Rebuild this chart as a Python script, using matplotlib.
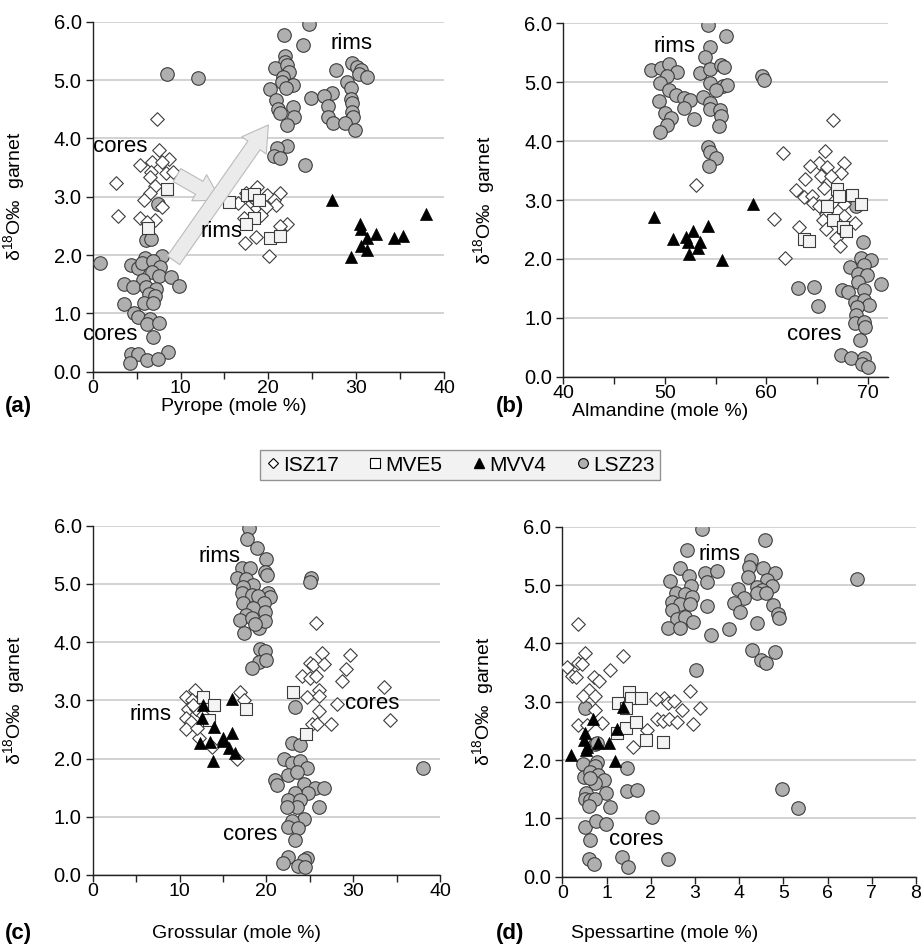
import numpy as np
import matplotlib
matplotlib.use("Agg")
import matplotlib.pyplot as plt
from matplotlib.lines import Line2D

plt.rcParams['font.family'] = ['Liberation Sans', 'DejaVu Sans']
plt.rcParams['mathtext.default'] = 'regular'

# ---------- (a) pyrope ----------
pyr_lsz_x = [24.6, 21.8, 23.9, 21.9, 21.9, 20.8, 22.1, 22.3, 21.7, 21.5, 20.2, 22.8, 22.0, 20.9, 21.1, 21.3,
             22.8, 22.9, 22.1, 22.1, 21.0, 20.6, 21.3, 24.2, 24.9, 8.5, 12.0,
             29.5, 27.7, 30.1, 30.6, 30.3, 31.2, 29.0, 29.4, 27.3, 26.3, 29.4, 29.5, 26.8, 29.5, 29.6, 26.8,
             27.4, 28.7, 29.9,
             0.8, 7.4, 6.1, 6.6, 7.9, 5.9, 4.4, 5.2, 5.6, 6.9, 7.7, 6.7, 5.7, 7.5, 8.9, 9.8, 3.6, 4.6, 6.1,
             7.2, 6.4, 7.1, 5.8, 3.6, 6.9, 4.7, 5.2, 6.5, 6.2, 7.5, 6.9, 8.6, 4.4, 5.2, 4.3, 6.2, 7.4]
pyr_lsz_y = [5.96, 5.77, 5.60, 5.41, 5.31, 5.20, 5.26, 5.14, 5.06, 4.97, 4.84, 4.91, 4.86, 4.66, 4.51, 4.43,
             4.53, 4.36, 4.23, 3.87, 3.83, 3.70, 3.67, 3.55, 4.69, 5.10, 5.03,
             5.30, 5.17, 5.23, 5.17, 5.10, 5.06, 4.97, 4.86, 4.78, 4.73, 4.67, 4.60, 4.56, 4.46, 4.37, 4.37,
             4.26, 4.26, 4.14,
             1.86, 2.87, 2.25, 2.28, 1.98, 1.95, 1.83, 1.77, 1.87, 1.89, 1.80, 1.71, 1.58, 1.64, 1.63, 1.47,
             1.50, 1.45, 1.45, 1.42, 1.34, 1.29, 1.17, 1.16, 1.18, 1.00, 0.94, 0.91, 0.82, 0.84, 0.60, 0.34,
             0.30, 0.30, 0.15, 0.20, 0.21]
pyr_isz_x = [7.3, 7.5, 8.7, 5.4, 6.7, 7.9, 6.6, 8.4, 9.2, 6.5, 7.1, 6.5, 2.6, 5.8, 7.9, 2.9, 5.4, 7.1, 6.2,
             18.7, 17.5, 16.6, 19.8, 21.3, 20.6, 20.9, 18.1, 18.7, 19.7, 17.2, 19.2, 22.1, 21.3, 18.6, 17.3,
             20.1, 18.1]
pyr_isz_y = [4.34, 3.80, 3.65, 3.55, 3.60, 3.60, 3.43, 3.40, 3.42, 3.34, 3.18, 3.06, 3.24, 2.94, 2.82, 2.67,
             2.63, 2.60, 2.57,
             3.17, 3.06, 2.89, 3.03, 3.07, 2.94, 2.86, 2.90, 2.80, 2.82, 2.63, 2.69, 2.54, 2.49, 2.31, 2.21,
             1.99, 3.00]
pyr_mve_x = [8.5, 6.3, 15.5, 17.6, 18.4, 18.9, 18.4, 17.4, 20.2, 21.3]
pyr_mve_y = [3.14, 2.46, 2.91, 3.03, 3.05, 2.95, 2.63, 2.53, 2.30, 2.33]
pyr_mvv_x = [27.2, 38.0, 30.4, 30.6, 32.3, 31.2, 34.3, 35.3, 30.6, 31.2, 29.4]
pyr_mvv_y = [2.94, 2.70, 2.53, 2.45, 2.36, 2.29, 2.29, 2.33, 2.16, 2.09, 1.97]

# ---------- (b) almandine ----------
alm_lsz_x = [54.3, 56.0, 54.5, 54.0, 48.6, 49.6, 50.4, 51.2, 50.2, 49.5, 53.5, 54.5, 55.5, 55.8, 55.7, 56.1,
             54.5, 55.0, 50.4, 51.1, 51.9, 52.5, 49.4, 53.8, 54.5, 51.9, 50.0, 54.5, 55.4, 55.5, 50.6, 52.9,
             50.2, 55.3, 49.5, 59.6, 59.8, 54.3, 54.5, 55.0, 54.4,
             69.5, 69.3, 70.3, 68.3, 69.6, 69.0, 69.9, 71.3, 69.0, 67.5, 68.1, 69.6, 68.7, 69.6, 70.1, 68.9,
             68.8, 68.7, 69.6, 69.7, 69.2, 67.4, 68.4, 69.6, 69.4, 70.0, 63.1, 64.7, 65.1, 68.8]
alm_lsz_y = [5.97, 5.78, 5.60, 5.42, 5.20, 5.24, 5.31, 5.18, 5.11, 4.99, 5.16, 5.22, 5.29, 5.26, 4.94, 4.95,
             4.98, 4.87, 4.87, 4.78, 4.74, 4.70, 4.68, 4.75, 4.64, 4.57, 4.47, 4.54, 4.53, 4.43, 4.39, 4.37,
             4.27, 4.26, 4.15, 5.10, 5.04, 3.90, 3.82, 3.71, 3.58,
             2.29, 2.01, 1.98, 1.87, 1.90, 1.75, 1.73, 1.58, 1.60, 1.47, 1.43, 1.48, 1.27, 1.31, 1.22, 1.19,
             1.05, 0.92, 0.93, 0.85, 0.62, 0.37, 0.31, 0.31, 0.22, 0.17, 1.50, 1.53, 1.20, 2.90]
alm_isz_x = [66.6, 61.7, 65.8, 65.2, 66.0, 64.3, 67.7, 67.4, 65.4, 63.8, 66.4, 62.9, 63.7, 64.5, 65.7, 64.6,
             65.2, 66.6, 67.7, 65.9, 67.7, 65.6, 68.7, 65.9, 66.9, 67.3, 60.8, 63.2, 53.1, 61.8]
alm_isz_y = [4.35, 3.79, 3.84, 3.62, 3.56, 3.58, 3.62, 3.45, 3.41, 3.35, 3.40, 3.17, 3.05, 3.07, 3.20, 2.95,
             2.89, 2.97, 2.94, 2.77, 2.72, 2.66, 2.61, 2.50, 2.35, 2.22, 2.68, 2.55, 3.25, 2.01]
alm_mve_x = [67.0, 67.2, 68.5, 69.3, 66.0, 66.6, 67.6, 67.9, 63.7, 64.2]
alm_mve_y = [3.18, 3.06, 3.08, 2.94, 2.89, 2.66, 2.55, 2.48, 2.33, 2.31]
alm_mvv_x = [48.9, 58.7, 50.8, 52.1, 52.8, 54.3, 52.3, 53.5, 53.3, 52.4, 55.6]
alm_mvv_y = [2.71, 2.93, 2.34, 2.37, 2.47, 2.56, 2.29, 2.29, 2.18, 2.09, 1.98]

# ---------- (c) grossular ----------
grs_lsz_x = [18.0, 17.8, 18.9, 20.0, 17.2, 18.1, 19.9, 20.1, 16.6, 17.7, 18.5, 17.3, 20.2, 20.4, 17.2, 18.3,
             19.0, 19.7, 17.3, 18.5, 17.7, 19.9, 17.0, 18.3, 19.1, 19.9, 17.4, 18.7, 25.2, 25.0, 19.3, 19.8,
             19.1, 20.0, 18.4,
             23.3, 23.0, 23.9, 22.0, 22.9, 23.9, 24.7, 22.5, 23.5, 24.3, 21.0, 21.2, 25.6, 26.6, 24.8, 23.3,
             22.5, 23.9, 23.5, 22.4, 26.1, 24.3, 23.0, 22.5, 23.6, 23.3, 22.5, 21.9, 24.7, 24.3, 23.7, 24.4,
             38.0]
grs_lsz_y = [5.96, 5.78, 5.61, 5.42, 5.27, 5.28, 5.21, 5.15, 5.11, 5.09, 4.98, 4.95, 4.85, 4.77, 4.84, 4.81,
             4.79, 4.67, 4.67, 4.58, 4.46, 4.52, 4.38, 4.41, 4.24, 4.37, 4.15, 4.31, 5.11, 5.04, 3.88, 3.84,
             3.66, 3.69, 3.55,
             2.88, 2.26, 2.24, 1.99, 1.93, 1.95, 1.83, 1.72, 1.77, 1.57, 1.63, 1.55, 1.49, 1.49, 1.40, 1.40,
             1.29, 1.29, 1.17, 1.17, 1.16, 0.97, 0.92, 0.83, 0.80, 0.60, 0.31, 0.20, 0.29, 0.26, 0.15, 0.14,
             1.84]
grs_isz_x = [25.7, 26.4, 29.6, 25.0, 25.4, 26.6, 29.2, 24.1, 25.0, 25.7, 28.7, 33.5, 26.1, 24.7, 26.1, 28.1,
             26.1, 34.2, 25.3, 25.8, 27.4,
             11.8, 10.8, 11.4, 11.0, 11.9, 11.6, 10.8, 11.3, 12.7, 10.8, 12.2, 13.7, 16.6, 17.0, 17.4, 12.0]
grs_isz_y = [4.33, 3.82, 3.78, 3.65, 3.61, 3.62, 3.54, 3.41, 3.38, 3.42, 3.33, 3.23, 3.18, 3.06, 3.07, 2.93,
             2.82, 2.67, 2.60, 2.59, 2.60,
             3.18, 3.05, 3.01, 2.86, 2.85, 2.92, 2.69, 2.63, 2.75, 2.50, 2.35, 2.20, 1.99, 3.15, 3.01, 2.52]
grs_mve_x = [12.7, 14.0, 13.4, 17.7, 23.1, 24.6]
grs_mve_y = [3.05, 2.92, 2.66, 2.86, 3.15, 2.43]
grs_mvv_x = [16.1, 12.7, 12.6, 14.0, 16.1, 12.4, 13.5, 15.0, 15.0, 15.7, 16.4, 13.9]
grs_mvv_y = [3.03, 2.92, 2.69, 2.55, 2.44, 2.27, 2.29, 2.31, 2.36, 2.18, 2.09, 1.96]

# ---------- (d) spessartine ----------
sps_lsz_x = [3.17, 4.59, 2.83, 2.66, 2.87, 3.23, 3.49, 3.27, 2.44, 2.90, 2.57, 2.78, 2.93, 2.47, 2.66, 2.89,
             2.47, 3.28, 2.59, 2.78, 2.95, 2.38, 2.66, 3.37, 3.76, 4.26, 4.23, 4.21, 4.53, 4.81, 4.62, 4.41,
             4.74, 4.51, 4.41, 4.61, 3.98, 4.11, 3.88, 4.02, 4.77, 4.89, 4.91, 4.40, 4.28, 4.49, 4.61, 4.80,
             3.02, 6.67, 4.98, 5.32,
             0.51, 0.46, 0.49, 0.79, 0.74, 0.62, 0.81, 0.95, 0.75, 0.62, 0.54, 0.99, 0.52, 0.62, 0.75, 0.61,
             1.09, 0.74, 0.79, 1.47, 1.47, 1.68, 0.51, 0.76, 0.98, 0.63, 2.04, 0.60, 0.72, 1.36, 1.49, 2.38]
sps_lsz_y = [5.96, 5.78, 5.60, 5.30, 5.16, 5.20, 5.24, 5.05, 5.07, 4.99, 4.86, 4.85, 4.80, 4.71, 4.67, 4.67,
             4.57, 4.64, 4.41, 4.46, 4.37, 4.26, 4.27, 4.15, 4.24, 5.43, 5.31, 5.14, 5.30, 5.21, 5.09, 4.97,
             4.98, 4.91, 4.86, 4.86, 4.93, 4.78, 4.69, 4.54, 4.65, 4.50, 4.43, 4.35, 3.89, 3.71, 3.67, 3.85,
             3.55, 5.10, 1.51, 1.18,
             2.89, 1.93, 1.71, 1.97, 1.89, 1.80, 1.74, 1.65, 1.60, 1.69, 1.44, 1.43, 1.34, 1.31, 1.33, 1.21,
             1.19, 2.27, 2.30, 1.86, 1.47, 1.49, 0.85, 0.96, 0.91, 0.63, 1.02, 0.31, 0.21, 0.34, 0.17, 0.30]
sps_isz_x = [0.36, 0.51, 1.37, 0.10, 0.36, 0.44, 0.21, 0.31, 0.72, 0.84, 1.08, 0.60, 0.46, 0.74, 2.89, 2.30,
             2.11, 2.38, 2.53, 3.11, 0.74, 2.71, 2.14, 2.28, 2.42, 2.60, 2.96, 0.36, 0.89, 1.92, 1.61, 0.55]
sps_isz_y = [4.34, 3.83, 3.78, 3.60, 3.66, 3.65, 3.44, 3.42, 3.43, 3.35, 3.55, 3.20, 3.09, 3.09, 3.18, 3.07,
             3.05, 2.97, 3.01, 2.89, 2.85, 2.85, 2.71, 2.67, 2.71, 2.65, 2.62, 2.60, 2.63, 2.51, 2.23, 2.60]
sps_mve_x = [1.51, 1.26, 1.55, 1.79, 1.44, 1.23, 1.44, 1.67, 1.89, 2.28]
sps_mve_y = [3.17, 2.97, 3.07, 3.06, 2.89, 2.46, 2.55, 2.66, 2.34, 2.31]
sps_mvv_x = [0.20, 0.51, 0.49, 0.55, 0.54, 0.70, 0.81, 1.06, 1.19, 1.24, 1.38]
sps_mvv_y = [2.09, 2.46, 2.35, 2.23, 2.17, 2.71, 2.29, 2.29, 1.99, 2.54, 2.91]

samples = ['ISZ17', 'MVE5', 'MVV4', 'LSZ23']
y_ticks = [0, 1, 2, 3, 4, 5, 6]

styles = {
    'LSZ23': dict(marker='o', s=95, facecolor='#afafaf', edgecolor='#3c3c3c', linewidths=0.8, zorder=3),
    'ISZ17': dict(marker='D', s=48, facecolor='white', edgecolor='#3c3c3c', linewidths=0.8, zorder=4),
    'MVE5': dict(marker='s', s=80, facecolor='#f4f4f4', edgecolor='#3c3c3c', linewidths=0.8, zorder=5),
    'MVV4': dict(marker='^', s=75, facecolor='black', edgecolor='black', linewidths=0.5, zorder=6),
}

fig = plt.figure(figsize=(9.23, 9.44), dpi=100)
W, H = 923, 944


def make_ax(l, r, t, b):
    return fig.add_axes([l / W, 1 - b / H, (r - l) / W, (b - t) / H])


panels = [
    dict(ax=make_ax(92.7, 444, 21.7, 371.7), xlim=(0, 40), xt=np.arange(0, 41, 5), lab_every=10,
         data={'LSZ23': (pyr_lsz_x, pyr_lsz_y), 'ISZ17': (pyr_isz_x, pyr_isz_y),
               'MVE5': (pyr_mve_x, pyr_mve_y), 'MVV4': (pyr_mvv_x, pyr_mvv_y)},
         xlabel='Pyrope (mole %)', xl_pos=(234, 406), tag='(a)', tag_pos=(18, 406),
         notes=[('rims', 29.5, 5.63), ('cores', 3.1, 3.86), ('rims', 14.7, 2.40), ('cores', 2.0, 0.64)]),
    dict(ax=make_ax(563.3, 888, 23.3, 376.7), xlim=(40, 72), xt=np.arange(40, 71, 5), lab_every=10,
         data={'LSZ23': (alm_lsz_x, alm_lsz_y), 'ISZ17': (alm_isz_x, alm_isz_y),
               'MVE5': (alm_mve_x, alm_mve_y), 'MVV4': (alm_mvv_x, alm_mvv_y)},
         xlabel='Almandine (mole %)', xl_pos=(660, 412), tag='(b)', tag_pos=(510, 406),
         notes=[('rims', 51.0, 5.60), ('cores', 64.7, 0.71)]),
    dict(ax=make_ax(92.7, 440, 525.7, 875), xlim=(0, 40), xt=np.arange(0, 41, 5), lab_every=10,
         data={'LSZ23': (grs_lsz_x, grs_lsz_y), 'ISZ17': (grs_isz_x, grs_isz_y),
               'MVE5': (grs_mve_x, grs_mve_y), 'MVV4': (grs_mvv_x, grs_mvv_y)},
         xlabel='Grossular (mole %)', xl_pos=(236, 933), tag='(c)', tag_pos=(18, 933),
         notes=[('rims', 14.6, 5.47), ('rims', 6.6, 2.75), ('cores', 32.2, 2.95), ('cores', 18.1, 0.70)]),
    dict(ax=make_ax(562.3, 916, 526.7, 876.7), xlim=(0, 8), xt=np.arange(0, 9, 1), lab_every=1,
         data={'LSZ23': (sps_lsz_x, sps_lsz_y), 'ISZ17': (sps_isz_x, sps_isz_y),
               'MVE5': (sps_mve_x, sps_mve_y), 'MVV4': (sps_mvv_x, sps_mvv_y)},
         xlabel='Spessartine (mole %)', xl_pos=(665, 934), tag='(d)', tag_pos=(510, 933),
         notes=[('rims', 3.55, 5.53), ('cores', 1.67, 0.64)]),
]

for p in panels:
    ax = p['ax']
    for name in ['LSZ23', 'ISZ17', 'MVE5', 'MVV4']:
        xs, ys = p['data'][name]
        ax.scatter(xs, ys, **styles[name])
    ax.set_xlim(*p['xlim'])
    ax.set_ylim(0, 6)
    ax.set_yticks(y_ticks)
    ax.set_yticklabels(['%.1f' % v for v in y_ticks])
    ax.set_xticks(p['xt'])
    ax.set_xticklabels([str(int(v)) if v % p['lab_every'] == 0 else '' for v in p['xt']])
    ax.grid(axis='y', color='#cfcfcf', lw=1.3, zorder=0)
    ax.set_axisbelow(True)
    for s in ['top', 'right']:
        ax.spines[s].set_visible(False)
    for s in ['left', 'bottom']:
        ax.spines[s].set_color('#222222')
        ax.spines[s].set_linewidth(1.0)
    ax.tick_params(direction='out', length=5, width=1, colors='#222222', labelsize=14.5,
                   labelcolor='black')
    ax.tick_params(axis='x', pad=1, labelsize=14)
    ax.tick_params(axis='y', pad=3)
    ax.set_ylabel('δ$^{18}$O‰  garnet', fontsize=14)
    ax.yaxis.set_label_coords(-(66 / (ax.get_position().width * W)), 0.5)
    for txt, tx, ty in p['notes']:
        ax.text(tx, ty, txt, fontsize=16, ha='center', va='center', zorder=8)
    fig.text(p['xl_pos'][0] / W, 1 - p['xl_pos'][1] / H, p['xlabel'], fontsize=14, ha='center', va='center')
    fig.text(p['tag_pos'][0] / W, 1 - p['tag_pos'][1] / H, p['tag'], fontsize=16, fontweight='bold',
             ha='center', va='center')

# arrows in panel (a)
ax_a = panels[0]['ax']
arrow_kw = dict(arrowstyle='simple,head_width=1.2,head_length=1.0,tail_width=0.6',
                fc='#ebebeb', ec='#bbbbbb', lw=0.8, mutation_scale=18, shrinkA=0, shrinkB=0)
ax_a.annotate('', xy=(14.6, 2.94), xytext=(9.6, 3.37), arrowprops=arrow_kw, zorder=7)
ax_a.annotate('', xy=(20.0, 4.23), xytext=(9.2, 1.91), arrowprops=arrow_kw, zorder=7)

handles = [
    Line2D([], [], ls='none', marker='D', ms=5, mfc='white', mec='black', mew=0.8),
    Line2D([], [], ls='none', marker='s', ms=7, mfc='white', mec='black', mew=0.8),
    Line2D([], [], ls='none', marker='^', ms=7, mfc='black', mec='black'),
    Line2D([], [], ls='none', marker='o', ms=7, mfc='#afafaf', mec='black', mew=0.8),
]
leg = fig.legend(handles, samples, loc='center', bbox_to_anchor=(460 / W, 1 - 465 / H), ncol=4,
                 fontsize=15, frameon=True, fancybox=False, handlelength=0.7, handletextpad=0.15,
                 columnspacing=1.4, borderpad=0.25)
leg.get_frame().set_facecolor('#efefef')
leg.get_frame().set_edgecolor('#7a7a7a')
leg.get_frame().set_linewidth(1.0)

fig.savefig('out.png', dpi=100)
